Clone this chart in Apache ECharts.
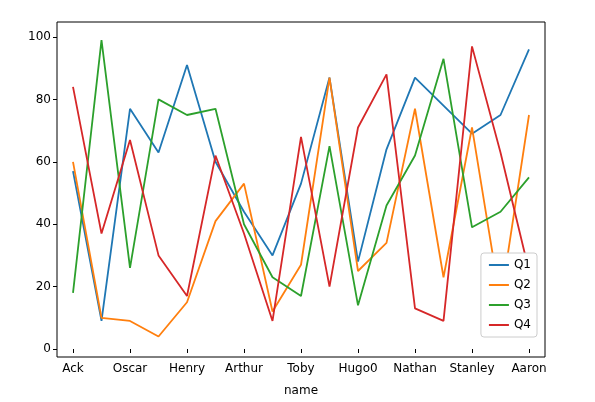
<!DOCTYPE html>
<html><head><meta charset="utf-8">
<script src="https://cdn.jsdelivr.net/npm/echarts@6/dist/echarts.min.js"></script>
<style>html,body{margin:0;background:#fff}#c{width:595px;height:402px}</style>
</head><body><div id="c"></div>
<script>
const categories = ['Ack','Bob','Oscar','Jack','Henry','Leo','Arthur','Max','Toby','Sam','Hugo0','Tom','Nathan','Paul','Stanley','Eric','Aaron'];
const q1 = [57,9,77,63,91,60,44,30,53,87,28,64,87,78,69,75,96];
const q2 = [60,10,9,4,15,41,53,12,27,87,25,34,77,23,71,15,75];
const q3 = [18,99,26,80,75,77,40,23,17,65,14,46,62,93,39,44,55];
const q4 = [84,37,67,30,17,62,37,9,68,20,71,88,13,9,97,63,25];
const names = ['Q1','Q2','Q3','Q4'];
const colors = ['#1f77b4','#ff7f0e','#2ca02c','#d62728'];
const chart = echarts.init(document.getElementById('c'));
const font = 'DejaVu Sans';
chart.setOption({
  animation:false,
  textStyle:{fontFamily:font},
  grid:{left:73,right:66,top:37,bottom:53},
  legend:{right:58,top:253,orient:'vertical',itemWidth:20,itemHeight:2,itemGap:8,
    backgroundColor:'#fff',borderColor:'#ccc',borderWidth:1,borderRadius:3,padding:[6,6,6,8],
    textStyle:{fontSize:12,color:'#000',fontFamily:font},icon:'rect'},
  xAxis:{type:'category',data:categories,boundaryGap:false,offset:8,
    name:'name',nameLocation:'middle',nameGap:28,nameTextStyle:{fontSize:12,color:'#000'},
    axisLine:{show:false},axisTick:{length:4,interval:1,lineStyle:{color:'#000'}},
    axisLabel:{interval:1,color:'#000',fontSize:12,margin:6},splitLine:{show:false}},
  yAxis:{type:'value',min:0,max:100,interval:20,offset:16,
    axisLine:{show:false},axisTick:{show:true,length:4,lineStyle:{color:'#000'}},
    axisLabel:{color:'#000',fontSize:12,margin:6},splitLine:{show:false}},
  graphic:[{type:'rect',shape:{x:57,y:22,width:488,height:335},style:{fill:'none',stroke:'#000',lineWidth:1},z:-1}],
  series:[q1,q2,q3,q4].map((d,i)=>({name:names[i],type:'line',data:d,symbol:'none',
    lineStyle:{width:1.8,color:colors[i]},itemStyle:{color:colors[i]}}))
});
</script></body></html>
